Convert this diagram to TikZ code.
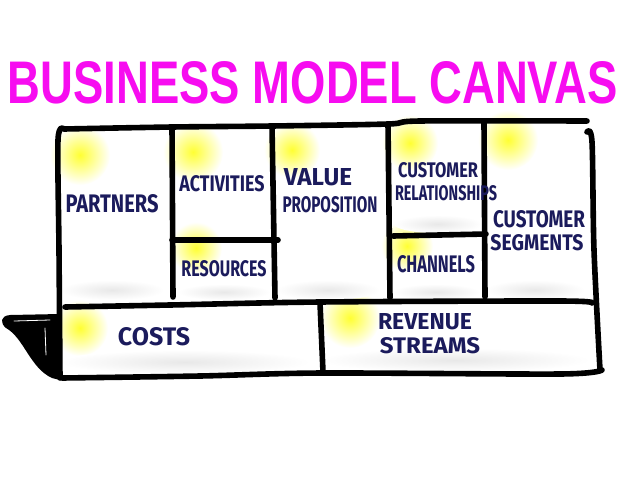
\documentclass[tikz,border=0pt]{standalone}
\usepackage{fontspec}
\usepackage{graphicx}
\setmainfont{Fira Sans}
\newfontfamily\titlefont{Liberation Sans}
\usetikzlibrary{positioning}

\definecolor{canvasmagenta}{HTML}{F70CF0}
\definecolor{markerblue}{HTML}{1B1B5C}
\newcommand{\scrawl}[3]{\resizebox{#1pt}{#2pt}{#3}}

\begin{document}
\begin{tikzpicture}[
    x=1pt,y=-1pt,
    inkline/.style={line width=5.6pt,line cap=round,line join=round,black},
    inkword/.style={text=markerblue,inner sep=0pt,font=\bfseries},
    glow/.style={inner color=yellow!80,outer color=white},
    smudge/.style={inner color=black!9,outer color=white}
]
\useasboundingbox[fill=white] (0,0) rectangle (640,480);

% Title
\node[inner sep=0pt] (title) at (313,83)
    {\titlefont\bfseries\color{canvasmagenta}\scrawl{610}{42}{BUSINESS MODEL CANVAS}};

% Sticky-note glows
\shade[glow] (80,155) circle (30pt);
\shade[glow] (193,152) circle (30pt);
\shade[glow] (292,150) circle (28pt);
\shade[glow] (410,143) circle (28pt);
\shade[glow] (508,140) circle (30pt);
\shade[glow] (196,248) circle (26pt);
\shade[glow] (407,246) circle (26pt);
\shade[glow] (80,328) circle (28pt);
\shade[glow] (350,318) circle (30pt);

% Shadows at the bottom of the boxes
\shade[smudge] (112,290) ellipse (52pt and 10pt);
\shade[smudge] (224,292) ellipse (46pt and 8pt);
\shade[smudge] (328,290) ellipse (52pt and 10pt);
\shade[smudge] (438,224) ellipse (44pt and 9pt);
\shade[smudge] (436,292) ellipse (44pt and 8pt);
\shade[smudge] (535,290) ellipse (50pt and 10pt);
\shade[smudge] (185,362) ellipse (125pt and 12pt);
\shade[smudge] (455,360) ellipse (135pt and 12pt);

% Folded flap on the left
\fill[black] (60,314) -- (10,315) .. controls (0,316) and (0,323) .. (6,328)
    .. controls (24,338) and (30,368) .. (52,378) -- (60,380) -- cycle;
\draw[white,line width=0.8pt,line cap=round] (14,321) -- (50,320);
\draw[white,line width=0.8pt,line cap=round] (45,328) -- (46,355);

% Canvas outline
\draw[inkline] plot[smooth] coordinates {(60,378) (59,250) (58,140) (64,129)};
\draw[inkline] plot[smooth] coordinates {(64,129) (172,127) (272,126) (388,124) (420,121) (587,121)};
\draw[inkline] plot[smooth] coordinates {(587,132) (592,142) (594,250) (600,370)};
\draw[inkline] plot[smooth] coordinates {(62,378) (200,376) (322,373) (560,374) (602,370)};

% Columns
\draw[inkline] (172,127) -- (173,297);
\draw[inkline] (272,126) -- (275,298);
\draw[inkline] (388,124) -- (390,298);
\draw[inkline] (484,122) -- (485,297);

% Split of the small boxes
\draw[inkline] (172,240) -- (278,240);
\draw[inkline] (393,236) -- (486,234);

% Middle and bottom split
\draw[inkline] plot[smooth] coordinates {(65,307) (170,305) (320,302) (560,301) (592,303)};
\draw[inkline] (320,303) -- (323,372);

% Box labels
\node[inkword] (partners) at (112,204) {\scrawl{93}{18}{PARTNERS}};
\node[inkword] (activities) at (222,184) {\scrawl{85}{16}{ACTIVITIES}};
\node[inkword] (resources) at (224,269) {\scrawl{85}{16}{RESOURCES}};
\node[inkword] (value) at (318,177) {\scrawl{68}{17}{VALUE}};
\node[inkword] (proposition) at (330,205) {\scrawl{95}{16}{PROPOSITION}};
\node[inkword] (custrel) at (438,170) {\scrawl{80}{15}{CUSTOMER}};
\node[inkword] (relations) at (446,193) {\scrawl{102}{15}{RELATIONSHIPS}};
\node[inkword] (channels) at (436,264) {\scrawl{78}{17}{CHANNELS}};
\node[inkword] (custseg) at (539,219) {\scrawl{92}{17}{CUSTOMER}};
\node[inkword] (segments) at (537,243) {\scrawl{93}{16}{SEGMENTS}};
\node[inkword] (costs) at (154,337) {\scrawl{72}{18}{COSTS}};
\node[inkword] (revenue) at (425,322) {\scrawl{94}{16}{REVENUE}};
\node[inkword] (streams) at (430,346) {\scrawl{100}{16}{STREAMS}};

\end{tikzpicture}
\end{document}
